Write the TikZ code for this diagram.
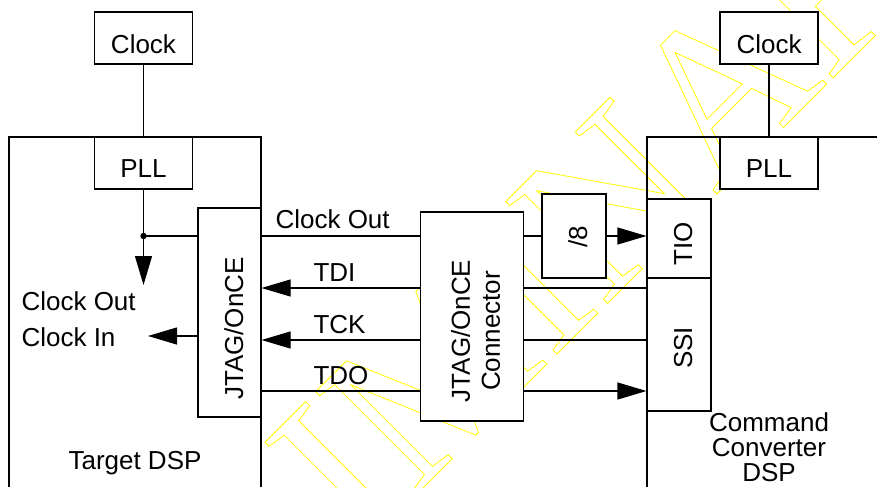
\documentclass[tikz,border=0pt]{standalone}
\usepackage{fontspec}
\setmainfont{Liberation Sans}
\newfontfamily\wmfont{Liberation Serif}
\usetikzlibrary{arrows.meta}
\newcommand{\strokedtext}[1]{\special{pdf:literal direct 1 Tr 0.8 w 1 1 0 RG}#1\special{pdf:literal direct 0 Tr}}
\begin{document}
\begin{tikzpicture}[x=1pt,y=-1pt,
  line width=1.1pt,
  box/.style={draw, fill=white, inner sep=0pt, line width=1.1pt},
  lbl/.style={inner sep=0pt, font=\fontsize{26}{30}\selectfont},
  arr/.style={-{Triangle[length=29pt,width=17pt]}},
]
\useasboundingbox (0,0) rectangle (877,487);
% watermark
\begin{scope}
\clip (0,0) rectangle (877,487);
\node[rotate=45, anchor=base west, inner sep=0pt, text=yellow, font=\wmfont\fontsize{220}{220}\selectfont] (wm) at (-19.5,930.5)
  {\strokedtext{PRELIMINARY}};
\end{scope}

% DSP outlines
\draw (9,487) -- (9,137) -- (261,137) -- (261,487);
\draw (647,487) -- (647,137) -- (877,137);

% boxes
\node[box, minimum width=98pt, minimum height=52pt] (clkL) at (143.5,38) {};
\node[box, minimum width=98pt, minimum height=52pt] (pllL) at (143.5,163) {};
\node[box, minimum width=63pt, minimum height=209pt] (jtag) at (229.5,312.5) {};
\node[box, minimum width=103pt, minimum height=209pt] (conn) at (472,316.5) {};
\node[box, minimum width=64pt, minimum height=84pt] (div8) at (574,236) {};
\node[box, minimum width=64pt, minimum height=79pt] (tio) at (679,238.5) {};
\node[box, minimum width=64pt, minimum height=133pt] (ssi) at (679,344.5) {};
\node[box, minimum width=98pt, minimum height=52pt] (clkR) at (769,38) {};
\node[box, minimum width=98pt, minimum height=52pt] (pllR) at (769,163) {};

% coordinates
\coordinate (dot) at (143.5,236);
\coordinate (cko) at (143.5,285);
\coordinate (cki) at (148,336);
\coordinate (yclk) at (0,236);
\coordinate (ytdi) at (0,288);
\coordinate (ytck) at (0,340);
\coordinate (ytdo) at (0,391);

% connectors
\draw (clkL.south) -- (pllL.north);
\draw (clkR.south) -- (pllR.north);
\draw[arr] (pllL.south) -- (cko);
\fill (dot) circle (3.2pt);
\draw (dot) -- (jtag.west |- yclk);
\draw[arr] (jtag.west |- cki) -- (cki);
\draw (jtag.east |- yclk) -- (conn.west |- yclk);
\draw (conn.east |- yclk) -- (div8.west |- yclk);
\draw[arr] (div8.east |- yclk) -- (tio.west |- yclk);
\draw[arr] (conn.west |- ytdi) -- (jtag.east |- ytdi);
\draw (ssi.west |- ytdi) -- (conn.east |- ytdi);
\draw[arr] (conn.west |- ytck) -- (jtag.east |- ytck);
\draw (ssi.west |- ytck) -- (conn.east |- ytck);
\draw (jtag.east |- ytdo) -- (conn.west |- ytdo);
\draw[arr] (conn.east |- ytdo) -- (ssi.west |- ytdo);

% texts
\node[lbl, anchor=base] (tclkL) at (143.5,54) {Clock};
\node[lbl, anchor=base] (tpllL) at (143.5,177) {PLL};
\node[lbl, anchor=base] (tclkR) at (769,54) {Clock};
\node[lbl, anchor=base] (tpllR) at (769,177) {PLL};
\node[lbl, anchor=base west] (tcko) at (21,310) {Clock Out};
\node[lbl, anchor=base west] (tcki) at (21,346) {Clock In};
\node[lbl, anchor=base] (ttgt) at (135,469) {Target DSP};
\node[lbl, anchor=base west] (tclk) at (275,228) {Clock Out};
\node[lbl, anchor=base west] (ttdi) at (313,281) {TDI};
\node[lbl, anchor=base west] (ttck) at (313,333) {TCK};
\node[lbl, anchor=base west] (ttdo) at (313,384) {TDO};
\node[lbl, rotate=90, anchor=base] (tjtag) at (243,328.5) {JTAG/OnCE};
\node[lbl, rotate=90, align=center] (tconn) at (475.5,331) {JTAG/OnCE\\Connector};
\node[lbl, rotate=90, anchor=base] (tdiv) at (587,236.5) {/8};
\node[lbl, rotate=90, anchor=base] (ttio) at (692,243.5) {TIO};
\node[lbl, rotate=90, anchor=base] (tssi) at (692,348) {SSI};
\node[lbl, align=center, font=\fontsize{26}{25}\selectfont] (tcmd) at (769,447.5) {Command\\Converter\\DSP};
\end{tikzpicture}
\end{document}
